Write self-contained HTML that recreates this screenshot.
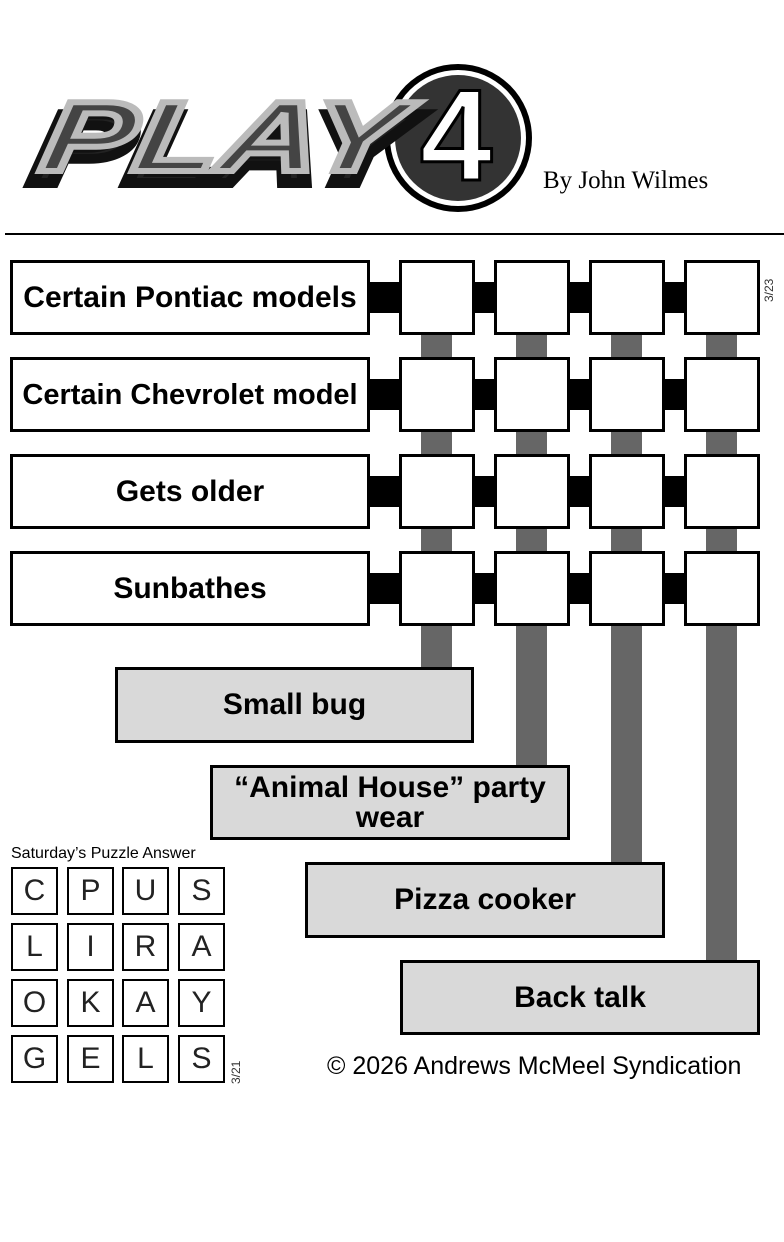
<!DOCTYPE html>
<html><head><style>
body{margin:0;width:784px;height:1242px;background:#fff;position:relative;overflow:hidden;font-family:"Liberation Sans",sans-serif}
.a{position:absolute;box-sizing:border-box}
.clue{border:3px solid #000;background:#fff;font-weight:bold;font-size:30px;display:flex;align-items:center;justify-content:center;text-align:center;line-height:30px;white-space:nowrap}
.g{background:#d9d9d9}
.sq{border:3px solid #000;background:#fff}
.blk{background:#000}
.gr{background:#666}
.ans{border:2px solid #000;font-size:30px;display:flex;align-items:center;justify-content:center;color:#222}
</style></head><body>
<svg class="a" style="left:0;top:55px" width="784" height="170">
<circle cx="458" cy="83" r="74" fill="#000"/>
<circle cx="458" cy="83" r="68" fill="#fff"/>
<circle cx="458" cy="83" r="63" fill="#333"/>
<text x="52" y="128" font-family="Liberation Sans" font-weight="bold" font-style="italic" font-size="100" fill="#222" stroke="#111" stroke-width="10" textLength="370" lengthAdjust="spacingAndGlyphs" transform="skewX(-10)">PLAY</text>
<text x="58" y="116" font-family="Liberation Sans" font-weight="bold" font-style="italic" font-size="100" fill="#444" stroke="#bbb" stroke-width="6" textLength="360" lengthAdjust="spacingAndGlyphs" transform="skewX(-10)">PLAY</text>
<text x="420" y="125" font-family="Liberation Sans" font-weight="bold" font-size="130" fill="#fff" stroke="#000" stroke-width="3">4</text>
<text x="543" y="133" font-family="Liberation Serif" font-size="25" fill="#000">By John Wilmes</text>
</svg>
<div class="a" style="left:5px;top:233px;width:779px;height:2px;background:#000"></div>

<div class="a gr" style="left:421px;top:300px;width:31px;height:370px"></div>
<div class="a gr" style="left:516px;top:300px;width:31px;height:468px"></div>
<div class="a gr" style="left:611px;top:300px;width:31px;height:565px"></div>
<div class="a gr" style="left:706px;top:300px;width:31px;height:663px"></div>

<div class="a blk" style="left:365px;top:282px;width:394px;height:31px"></div>
<div class="a blk" style="left:365px;top:379px;width:394px;height:31px"></div>
<div class="a blk" style="left:365px;top:476px;width:394px;height:31px"></div>
<div class="a blk" style="left:365px;top:573px;width:394px;height:31px"></div>

<div class="a clue" style="left:10px;top:260px;width:360px;height:75px">Certain Pontiac models</div>
<div class="a clue" style="left:10px;top:357px;width:360px;height:75px;font-size:29px">Certain Chevrolet model</div>
<div class="a clue" style="left:10px;top:454px;width:360px;height:75px">Gets older</div>
<div class="a clue" style="left:10px;top:551px;width:360px;height:75px">Sunbathes</div>

<div class="a sq" style="left:399px;top:260px;width:76px;height:75px"></div>
<div class="a sq" style="left:494px;top:260px;width:76px;height:75px"></div>
<div class="a sq" style="left:589px;top:260px;width:76px;height:75px"></div>
<div class="a sq" style="left:684px;top:260px;width:76px;height:75px"></div>
<div class="a sq" style="left:399px;top:357px;width:76px;height:75px"></div>
<div class="a sq" style="left:494px;top:357px;width:76px;height:75px"></div>
<div class="a sq" style="left:589px;top:357px;width:76px;height:75px"></div>
<div class="a sq" style="left:684px;top:357px;width:76px;height:75px"></div>
<div class="a sq" style="left:399px;top:454px;width:76px;height:75px"></div>
<div class="a sq" style="left:494px;top:454px;width:76px;height:75px"></div>
<div class="a sq" style="left:589px;top:454px;width:76px;height:75px"></div>
<div class="a sq" style="left:684px;top:454px;width:76px;height:75px"></div>
<div class="a sq" style="left:399px;top:551px;width:76px;height:75px"></div>
<div class="a sq" style="left:494px;top:551px;width:76px;height:75px"></div>
<div class="a sq" style="left:589px;top:551px;width:76px;height:75px"></div>
<div class="a sq" style="left:684px;top:551px;width:76px;height:75px"></div>

<div class="a" style="left:762px;font-size:12px;transform:rotate(-90deg);transform-origin:left top;top:302px;color:#333">3/23</div>

<div class="a clue g" style="left:115px;top:667px;width:359px;height:76px">Small bug</div>
<div class="a clue g" style="left:210px;top:765px;width:360px;height:75px;white-space:normal;padding:0 12px">“Animal House” party wear</div>
<div class="a clue g" style="left:305px;top:862px;width:360px;height:76px">Pizza cooker</div>
<div class="a clue g" style="left:400px;top:960px;width:360px;height:75px">Back talk</div>

<div class="a" style="left:11px;top:845px;font-size:16px">Saturday’s Puzzle Answer</div>
<div class="a ans" style="left:11px;top:867px;width:47px;height:48px">C</div>
<div class="a ans" style="left:67px;top:867px;width:47px;height:48px">P</div>
<div class="a ans" style="left:122px;top:867px;width:47px;height:48px">U</div>
<div class="a ans" style="left:178px;top:867px;width:47px;height:48px">S</div>
<div class="a ans" style="left:11px;top:923px;width:47px;height:48px">L</div>
<div class="a ans" style="left:67px;top:923px;width:47px;height:48px">I</div>
<div class="a ans" style="left:122px;top:923px;width:47px;height:48px">R</div>
<div class="a ans" style="left:178px;top:923px;width:47px;height:48px">A</div>
<div class="a ans" style="left:11px;top:979px;width:47px;height:48px">O</div>
<div class="a ans" style="left:67px;top:979px;width:47px;height:48px">K</div>
<div class="a ans" style="left:122px;top:979px;width:47px;height:48px">A</div>
<div class="a ans" style="left:178px;top:979px;width:47px;height:48px">Y</div>
<div class="a ans" style="left:11px;top:1035px;width:47px;height:48px">G</div>
<div class="a ans" style="left:67px;top:1035px;width:47px;height:48px">E</div>
<div class="a ans" style="left:122px;top:1035px;width:47px;height:48px">L</div>
<div class="a ans" style="left:178px;top:1035px;width:47px;height:48px">S</div>
<div class="a" style="left:229px;top:1084px;font-size:12px;transform:rotate(-90deg);transform-origin:left top;color:#333">3/21</div>
<div class="a" style="left:327px;top:1052px;font-size:25px">© 2026 Andrews McMeel Syndication</div>
</body></html>
